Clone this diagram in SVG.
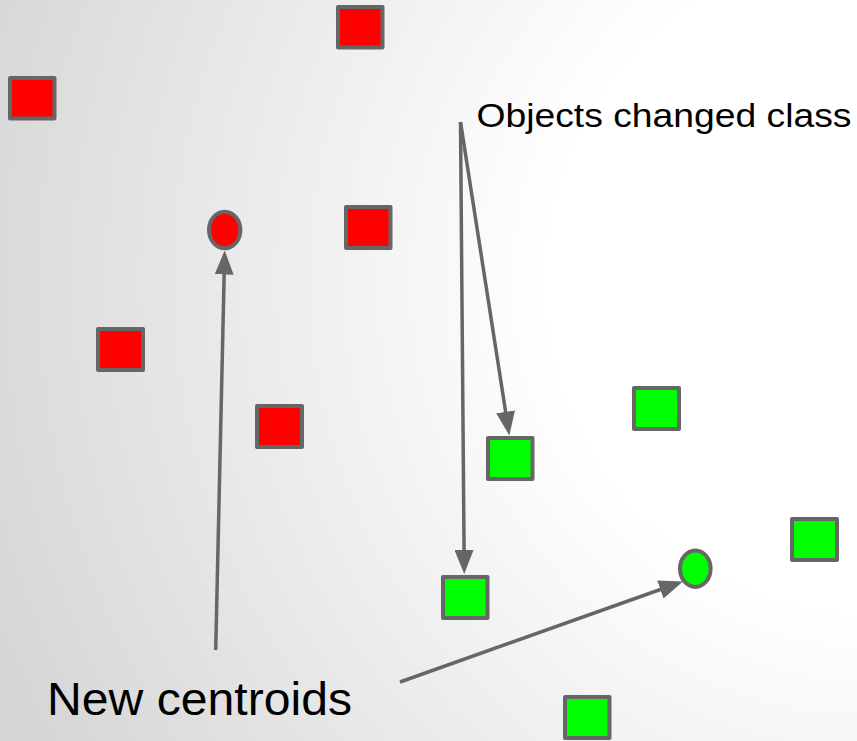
<svg xmlns="http://www.w3.org/2000/svg" width="857" height="741" viewBox="0 0 857 741">
  <defs>
    <radialGradient id="bg" gradientUnits="userSpaceOnUse" cx="880" cy="280" r="950">
      <stop offset="0" stop-color="#ffffff"/>
      <stop offset="0.35" stop-color="#ffffff"/>
      <stop offset="1" stop-color="#d6d6d6"/>
    </radialGradient>
    <marker id="arrow" markerUnits="userSpaceOnUse" markerWidth="24" markerHeight="19" refX="18" refY="9.5" orient="auto" viewBox="0 0 24 19">
      <path d="M0,0 L24,9.5 L0,19 Z" fill="#666666"/>
    </marker>
  </defs>
  <style>
    .pt { stroke: #666666; stroke-width: 4; stroke-linejoin: round; }
    .red { fill: #ff0000; }
    .green { fill: #00ff00; }
    .conn { stroke: #666666; stroke-width: 3.5; fill: none; marker-end: url(#arrow); }
    .label { font-family: "Liberation Sans", Arial, sans-serif; fill: #000000; }
  </style>

  <rect x="0" y="0" width="857" height="741" fill="url(#bg)"/>

  <!-- cluster A: red objects -->
  <g id="red-1"><rect class="pt red" x="338" y="7" width="44.5" height="40.5"/></g>
  <g id="red-2"><rect class="pt red" x="10" y="78" width="44.5" height="40.5"/></g>
  <g id="red-3"><rect class="pt red" x="346" y="207" width="44.5" height="41"/></g>
  <g id="red-4"><rect class="pt red" x="98" y="329" width="45" height="41"/></g>
  <g id="red-5"><rect class="pt red" x="257" y="406" width="45" height="41"/></g>
  <g id="red-centroid"><ellipse class="pt red" cx="224.7" cy="230" rx="15.7" ry="18.2"/></g>

  <!-- cluster B: green objects -->
  <g id="green-1"><rect class="pt green" x="634" y="388" width="45" height="41"/></g>
  <g id="green-2"><rect class="pt green" x="488" y="438" width="44.5" height="41"/></g>
  <g id="green-3"><rect class="pt green" x="792" y="519" width="45" height="41"/></g>
  <g id="green-4"><rect class="pt green" x="443" y="577" width="44.5" height="41"/></g>
  <g id="green-5"><rect class="pt green" x="565" y="697" width="44.5" height="41"/></g>
  <g id="green-centroid"><ellipse class="pt green" cx="695.3" cy="568.7" rx="15.3" ry="18.2"/></g>

  <!-- labels -->
  <g id="label-changed">
    <text class="label" x="476.5" y="127" font-size="33" textLength="375" lengthAdjust="spacingAndGlyphs">Objects changed class</text>
  </g>
  <g id="label-centroids">
    <text class="label" x="47" y="714.5" font-size="47" textLength="305" lengthAdjust="spacingAndGlyphs">New centroids</text>
  </g>

  <!-- connectors -->
  <g id="connectors">
    <line class="conn" x1="215.7" y1="650" x2="224.56" y2="256.5"/>
    <line class="conn" x1="460.5" y1="122" x2="464.2" y2="568"/>
    <line class="conn" x1="460.5" y1="122" x2="508.4" y2="429.6"/>
    <line class="conn" x1="400" y1="682" x2="677.3" y2="583.5"/>
  </g>
</svg>
